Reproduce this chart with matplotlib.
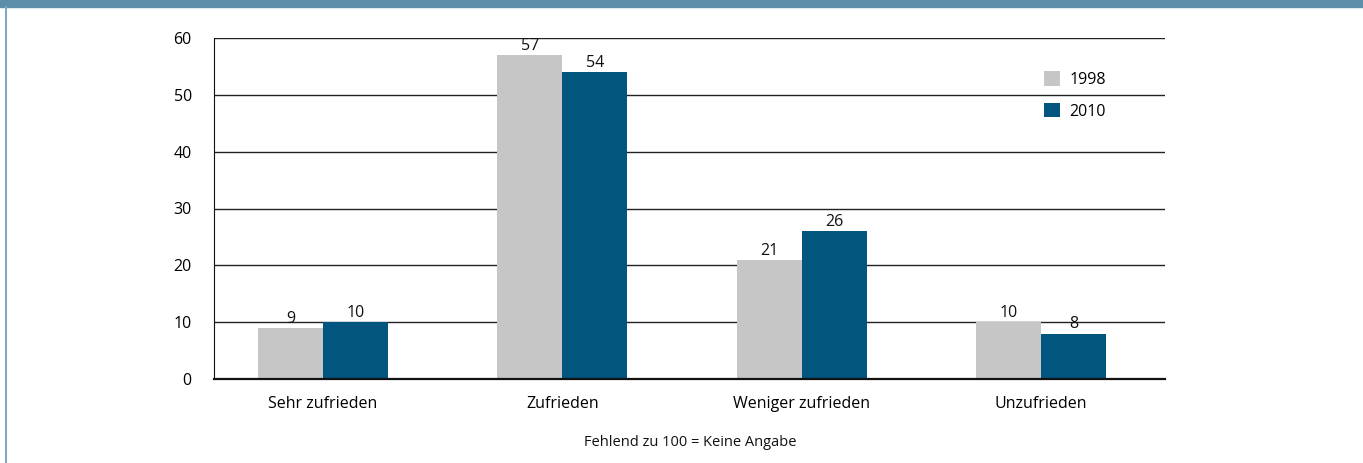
import matplotlib.pyplot as plt
import numpy as np

plt.rcParams['font.family'] = ['Open Sans', 'DejaVu Sans']

categories = ['Sehr zufrieden', 'Zufrieden', 'Weniger zufrieden', 'Unzufrieden']
values_1998 = [9, 57, 21, 10]
values_2010 = [10, 54, 26, 8]
years = ['1998', '2010']
colors = ['#c5c6c5', '#02557f']

W, H = 1363, 463
fig = plt.figure(figsize=(W / 100, H / 100), dpi=100)

# frame decoration: top band and left border
fig.patches.append(plt.Rectangle((0, 1 - 7 / H), 1, 7 / H, transform=fig.transFigure,
                                 color='#5b8fa9', zorder=0))
fig.add_artist(plt.Line2D([6 / W, 6 / W], [0, 1 - 7 / H], transform=fig.transFigure,
                          color='#7fa9c0', lw=1.5))

ax = fig.add_axes([214 / W, 1 - 379 / H, (1165 - 214) / W, (379 - 38) / H])

x = np.arange(len(categories))
w = 0.272
b1 = ax.bar(x - w / 2, values_1998, w, color=colors[0], label=years[0], zorder=2)
b2 = ax.bar(x + w / 2, values_2010, w, color=colors[1], label=years[1], zorder=2)

for bars in (b1, b2):
    for r in bars:
        ax.text(r.get_x() + r.get_width() / 2, r.get_height() + 0.2, str(int(r.get_height())),
                ha='center', va='bottom', fontsize=11.5, color='#111111', zorder=3)

ax.set_xlim(-0.456, 3.519)
ax.set_ylim(0, 60)
ax.set_yticks(range(0, 61, 10))
ax.set_xticks(x)
ax.set_xticklabels(categories, fontsize=11.5)
ax.tick_params(axis='y', labelsize=11.5, length=0, pad=16)
ax.tick_params(axis='x', length=0, pad=12)
ax.yaxis.grid(True, color='#222222', lw=1)
ax.set_axisbelow(True)
for s in ['right', 'top']:
    ax.spines[s].set_visible(False)
ax.spines['left'].set_color('#111111')
ax.spines['bottom'].set_color('#111111')
ax.spines['bottom'].set_linewidth(1.6)

ax.legend(loc='upper left', bbox_to_anchor=(1030 / W, 1 - 57 / H), bbox_transform=fig.transFigure,
          frameon=False, fontsize=11.5, handlelength=1.0, handleheight=1.0, labelspacing=0.95,
          handletextpad=0.55)

fig.text(690 / W, 1 - 442 / H, 'Fehlend zu 100 = Keine Angabe', ha='center', va='center',
         fontsize=10.5, color='#111111')

fig.savefig('out.png', dpi=100)
